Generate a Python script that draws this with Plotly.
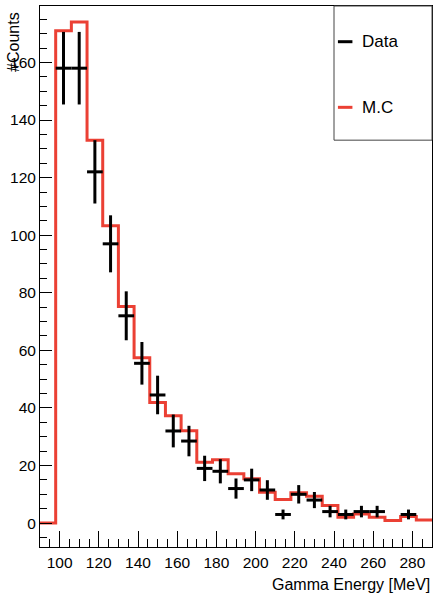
import plotly.graph_objects as go

# ---- data ----
bin_edges = [90, 98, 106, 114, 122, 130, 138, 146, 154, 162, 170, 178, 186,
             194, 202, 210, 218, 226, 234, 242, 250, 258, 266, 274, 282, 290]
mc_counts = [0, 171, 174, 133, 103.3, 75.2, 57.4, 41.9, 37.3, 32.1, 21.1, 22.0,
             17.1, 15.4, 10.7, 8.2, 10.5, 9.3, 6.1, 2.0, 3.2, 2.0, 0.9, 2.3, 1.1]

data_x = [102, 110, 118, 126, 134, 142, 150, 158, 166, 174, 182, 190, 198,
          206, 214, 222, 230, 238, 246, 254, 262, 278]
data_y = [158, 158, 122, 97, 72, 55.5, 44.5, 32, 28.5, 19, 18, 12, 15,
          11.5, 3, 10, 8, 4, 3, 4, 4, 3]
data_err = [12.6, 12.6, 11.0, 9.9, 8.5, 7.4, 6.7, 5.7, 5.3, 4.4, 4.2, 3.5, 3.9,
            3.4, 1.7, 3.2, 2.8, 2.0, 1.7, 2.0, 2.0, 1.7]
bin_half_width = 4

x_ticks = [100, 120, 140, 160, 180, 200, 220, 240, 260, 280]
y_ticks = [0, 20, 40, 60, 80, 100, 120, 140, 160]

RED = "#eb4034"
FONT = "Liberation Sans, Arial, Helvetica, sans-serif"

fig = go.Figure()

# MC step histogram
fig.add_trace(go.Scatter(
    x=bin_edges,
    y=mc_counts + [mc_counts[-1]],
    mode="lines",
    line=dict(color=RED, width=3, shape="hv"),
    showlegend=False,
    hoverinfo="skip",
))

# Data points with error bars
fig.add_trace(go.Scatter(
    x=data_x,
    y=data_y,
    mode="markers",
    marker=dict(size=1, color="black"),
    error_y=dict(type="data", array=data_err, visible=True,
                 color="black", thickness=3, width=0),
    error_x=dict(type="constant", value=bin_half_width, visible=True,
                 color="black", thickness=3, width=0),
    showlegend=False,
))

fig.update_layout(
    width=434, height=595,
    margin=dict(l=40, r=2, t=6, b=48),
    plot_bgcolor="white", paper_bgcolor="white",
    font=dict(family=FONT, size=15.5, color="black"),
    xaxis=dict(
        range=[90, 290], tickvals=x_ticks, ticks="inside", ticklen=16,
        tickwidth=1, tickcolor="black", showgrid=False, zeroline=False,
        showline=True, linecolor="black", linewidth=1, mirror=True,
        ticklabelstandoff=1,
        minor=dict(ticks="inside", ticklen=8, dtick=5, tick0=0,
                   tickcolor="black", tickwidth=1, showgrid=False),
    ),
    yaxis=dict(
        range=[-8.3, 179.6], tickvals=y_ticks, ticks="inside", ticklen=12,
        tickwidth=1, tickcolor="black", showgrid=False, zeroline=False,
        showline=True, linecolor="black", linewidth=1, mirror=True,
        minor=dict(ticks="inside", ticklen=6.5, dtick=5, tick0=0,
                   tickcolor="black", tickwidth=1, showgrid=False),
    ),
)

# axis titles
fig.add_annotation(text="Gamma Energy [MeV]", xref="paper", yref="paper",
                   x=1.0, y=-0.069, xanchor="right", yanchor="middle",
                   showarrow=False, font=dict(size=16, family=FONT))
fig.add_annotation(text="#Counts", xref="paper", yref="paper", textangle=-90,
                   x=-0.066, y=0.993, xanchor="center", yanchor="top",
                   showarrow=False, font=dict(size=16, family=FONT))

# legend box
fig.add_shape(type="rect", xref="paper", yref="paper",
              x0=0.75, x1=1.0, y0=0.752, y1=1.0,
              line=dict(color="#444444", width=1), fillcolor="white")
legend_items = [("Data", "black", 0.934), ("M.C", RED, 0.8127)]
for label, color, ly in legend_items:
    fig.add_shape(type="line", xref="paper", yref="paper",
                  x0=0.760, x1=0.797, y0=ly, y1=ly,
                  line=dict(color=color, width=3))
    fig.add_annotation(text=label, xref="paper", yref="paper",
                       x=0.816, y=ly, xanchor="left", yanchor="middle",
                       showarrow=False, font=dict(size=17, family=FONT))

fig.write_html("out.html")
